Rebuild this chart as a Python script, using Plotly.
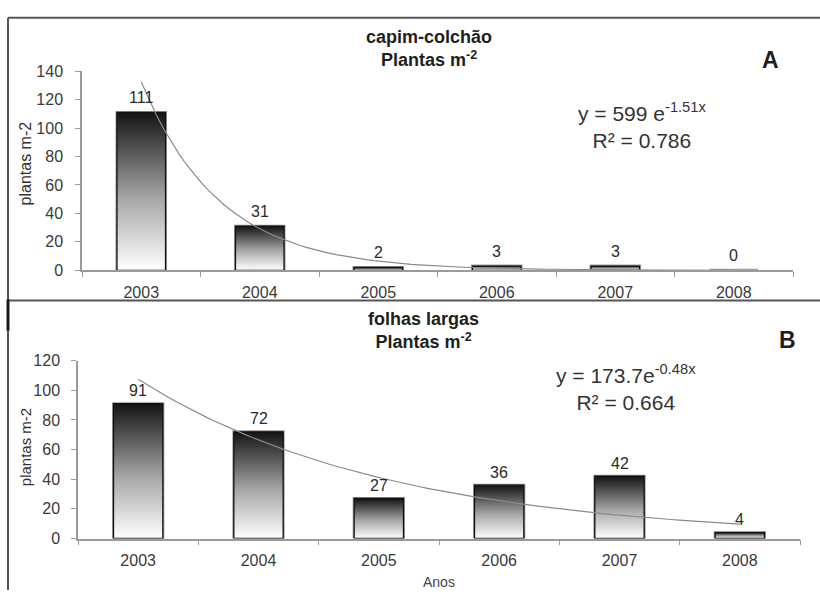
import numpy as np
import plotly.graph_objects as go

# ---------------- data ----------------
years = ["2003", "2004", "2005", "2006", "2007", "2008"]
capim_values = [111, 31, 2, 3, 3, 0]
folhas_values = [91, 72, 27, 36, 42, 4]

# trend-line equations shown on the chart: y = a * exp(b * x), x = 1..6
capim_fit_a, capim_fit_b, capim_r2 = 599, -1.51, 0.786
folhas_fit_a, folhas_fit_b, folhas_r2 = 173.7, -0.48, 0.664

W, H = 820, 599
FONT = "Liberation Sans, Arial, sans-serif"
BAR_W = 0.41


def px(x):
    return x / W


def py(y):
    return 1 - y / H


fig = go.Figure()

positions = list(range(1, len(years) + 1))


def add_panel(values, fa, fb, xa, ya):
    # bar outline (real bars from data)
    fig.add_trace(go.Bar(
        x=positions, y=values, width=BAR_W, xaxis=xa, yaxis=ya,
        marker=dict(color="rgba(0,0,0,0)", line=dict(color="#9c9c9c", width=3)),
        showlegend=False, hoverinfo="x+y",
    ))
    # gradient fill for each bar
    for p, v in zip(positions, values):
        if v <= 0:
            continue
        x0, x1 = p - BAR_W / 2, p + BAR_W / 2
        fig.add_trace(go.Scatter(
            x=[x0, x0, x1, x1, x0], y=[0, v, v, 0, 0], xaxis=xa, yaxis=ya,
            mode="lines", fill="toself",
            fillgradient=dict(type="vertical",
                              colorscale=[[0, "#ffffff"], [0.45, "#a8a8a8"], [1, "#141414"]]),
            line=dict(color="#111111", width=1.3),
            showlegend=False, hoverinfo="skip",
        ))
    # trend line
    xf = np.linspace(positions[0], positions[-1], 80)
    fig.add_trace(go.Scatter(
        x=xf, y=fa * np.exp(fb * xf), xaxis=xa, yaxis=ya, mode="lines",
        line=dict(color="#8a8a8a", width=1.2), showlegend=False, hoverinfo="skip",
    ))


add_panel(capim_values, capim_fit_a, capim_fit_b, "x", "y")
add_panel(folhas_values, folhas_fit_a, folhas_fit_b, "x2", "y2")

axis_common = dict(
    showgrid=False, zeroline=False, showline=True, linecolor="#9a9a9a", linewidth=1.5,
    tickfont=dict(family=FONT, size=16, color="#3a3a3a"),
)

xa_common = dict(
    axis_common, range=[0.5, len(years) + 0.5], tickmode="array", tickvals=positions,
    ticktext=years, ticks="", ticklabelstandoff=7,
    minor=dict(tickmode="array", tickvals=[p - 0.5 for p in positions] + [positions[-1] + 0.5],
               ticks="outside", ticklen=5, tickcolor="#9a9a9a", tickwidth=1),
)

fig.update_layout(
    width=W, height=H, autosize=False,
    margin=dict(l=0, r=0, t=0, b=0),
    paper_bgcolor="white", plot_bgcolor="white",
    barmode="overlay",
    xaxis=dict(xa_common, domain=[px(82), px(793)], anchor="y"),
    yaxis=dict(axis_common, domain=[py(270), py(65)], range=[0, 140], dtick=20,
               ticks="outside", ticklen=5, tickcolor="#9a9a9a", ticklabelstandoff=9,
               anchor="x"),
    xaxis2=dict(xa_common, domain=[px(78), px(800)], anchor="y2"),
    yaxis2=dict(axis_common, domain=[py(546), py(363)], range=[0, 120], dtick=20,
                ticks="outside", ticklen=5, tickcolor="#9a9a9a", ticklabelstandoff=8,
                anchor="x2"),
)

ann = []


def text(x, y, s, size, bold=False, color="#1e1e1e", angle=0, xanchor="center"):
    ann.append(dict(
        x=px(x), y=py(y), xref="paper", yref="paper", text=(f"<b>{s}</b>" if bold else s),
        showarrow=False, xanchor=xanchor, yanchor="middle", textangle=angle,
        font=dict(family=FONT, size=size, color=color),
    ))


# value labels above bars (from data)
for p, v in zip(positions, capim_values):
    ann.append(dict(x=p, y=v, xref="x", yref="y", text=str(v), showarrow=False,
                    yanchor="middle", yshift=15,
                    font=dict(family=FONT, size=16, color="#2a2a2a")))
for p, v in zip(positions, folhas_values):
    ann.append(dict(x=p, y=v, xref="x2", yref="y2", text=str(v), showarrow=False,
                    yanchor="middle", yshift=13,
                    font=dict(family=FONT, size=16, color="#2a2a2a")))

# panel A texts
text(429, 42, "capim-colchão<br>Plantas m<sup>-2</sup>", 18, bold=True)
text(770, 54, "A", 23, bold=True)
text(642, 121, f"y = {capim_fit_a} e<sup>{capim_fit_b}x</sup><br>R² = {capim_r2}", 21, color="#333")
text(25, 160, "plantas m-2", 16, color="#333", angle=-90)

# panel B texts
text(423, 332, "folhas largas<br>Plantas m<sup>-2</sup>", 18, bold=True)
text(787, 342, "B", 23, bold=True)
text(626, 391, f"y = {folhas_fit_a}e<sup>{folhas_fit_b}x</sup><br>R² = {folhas_r2}", 21, color="#333")
text(25, 452, "plantas m-2", 15, color="#333", angle=-90)
text(439, 591, "Anos", 14, color="#444")

fig.update_layout(annotations=ann)

# panel frames
frame = dict(type="line", xref="paper", yref="paper", line=dict(color="#555555", width=2))
fig.update_layout(shapes=[
    dict(frame, x0=px(8), x1=1.0, y0=py(10), y1=py(10)),
    dict(frame, x0=px(8), x1=px(8), y0=py(10), y1=0.0),
    dict(frame, x0=px(8), x1=1.0, y0=py(301), y1=py(301)),
    dict(frame, x0=px(8), x1=px(8), y0=py(300), y1=py(332), line=dict(color="#1a1a1a", width=3)),
])

fig.write_html("out.html", config={"displayModeBar": False},
               post_script="document.body.style.margin='0';document.body.style.overflow='hidden';")
